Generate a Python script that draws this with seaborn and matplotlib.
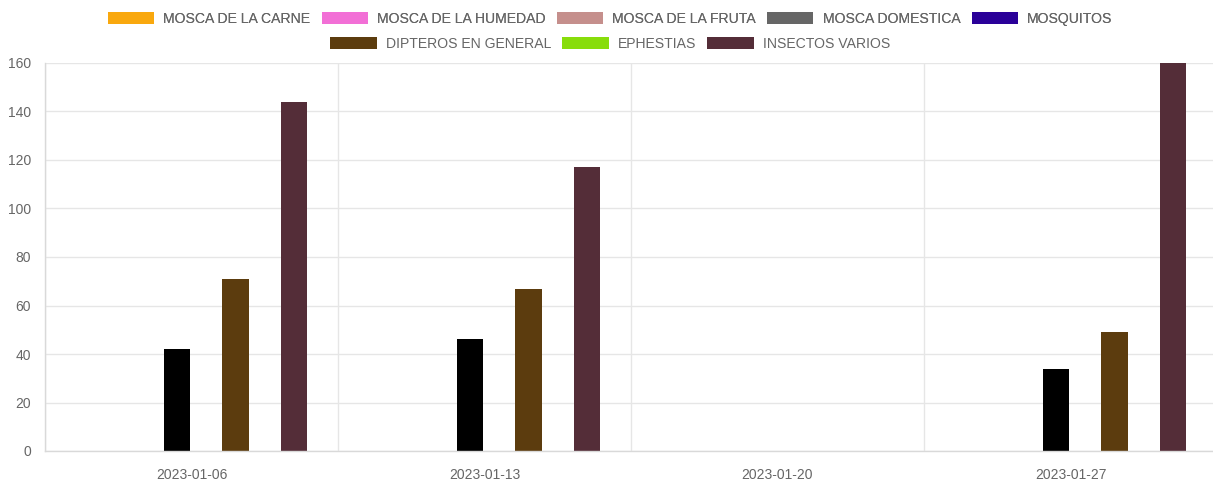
import pandas as pd
import matplotlib.pyplot as plt
import matplotlib.patches as mpatches
import seaborn as sns

sns.set_style("white")
plt.rcParams["font.family"] = ["Liberation Sans", "DejaVu Sans"]

fechas = ["2023-01-06", "2023-01-13", "2023-01-20", "2023-01-27"]
tipos = ["MOSCA DE LA CARNE", "MOSCA DE LA HUMEDAD", "MOSCA DE LA FRUTA",
         "MOSCA DOMESTICA", "MOSQUITOS", "DIPTEROS EN GENERAL",
         "EPHESTIAS", "INSECTOS VARIOS"]

mosca_carne = [0, 0, 0, 0]
mosca_humedad = [0, 0, 0, 0]
mosca_fruta = [0, 0, 0, 0]
mosca_domestica = [42, 46, 0, 34]
mosquitos = [0, 0, 0, 0]
dipteros = [71, 67, 0, 49]
ephestias = [0, 0, 0, 0]
insectos_varios = [144, 117, 0, 160]

# legend swatch colours vs. the colours the bars are actually drawn with
legend_colors = ["#f9a80e", "#f26fd6", "#c58f8c", "#666666",
                 "#2a0099", "#5c3c0e", "#88dd0b", "#542d38"]
bar_colors = list(legend_colors)
bar_colors[3] = "#000000"

valores = [mosca_carne, mosca_humedad, mosca_fruta, mosca_domestica,
           mosquitos, dipteros, ephestias, insectos_varios]

rows = []
for tipo, vals in zip(tipos, valores):
    for f, v in zip(fechas, vals):
        rows.append({"fecha": f, "tipo": tipo, "cantidad": v})
df = pd.DataFrame(rows)

fig = plt.figure(figsize=(12.13, 5.04), dpi=100)
# plot area runs a little past the right edge of the figure, as in the original
ax = fig.add_axes([45 / 1213, 1 - 451 / 504, (1217 - 45) / 1213, (451 - 63) / 504])

sns.barplot(data=df, x="fecha", y="cantidad", hue="tipo", hue_order=tipos,
            order=fechas, palette=dict(zip(tipos, bar_colors)), saturation=1,
            width=0.8, gap=0.1, linewidth=0, legend=False, ax=ax)

grid_c = "#e6e6e6"
ax.set_xlim(-0.5, 3.5)
ax.set_ylim(0, 160)
ax.set_yticks(range(0, 161, 20))
ax.set_xticks([-0.5, 0.5, 1.5, 2.5], minor=True)
ax.grid(axis="y", color=grid_c, linewidth=1)
ax.grid(axis="x", which="minor", color=grid_c, linewidth=1)
ax.set_axisbelow(True)
ax.set_xlabel("")
ax.set_ylabel("")

for s in ["top", "right"]:
    ax.spines[s].set_visible(False)
for s in ["left", "bottom"]:
    ax.spines[s].set_color("#d9d9d9")
    ax.spines[s].set_linewidth(1)

ax.tick_params(axis="y", length=7, color=grid_c, width=1, pad=3,
               labelsize=10, labelcolor="#666666")
ax.tick_params(axis="x", which="major", length=0, pad=12,
               labelsize=10, labelcolor="#666666")
ax.tick_params(axis="x", which="minor", length=7.5, color=grid_c, width=1)

handles = [mpatches.Patch(facecolor=c, edgecolor="none", label=t)
           for t, c in zip(tipos, legend_colors)]
leg_kw = dict(loc="center", frameon=False, fontsize=10.1, handlelength=3.3,
              handleheight=0.95, handletextpad=0.65, columnspacing=0.8,
              borderpad=0, labelcolor="#666666")
leg1 = fig.legend(handles=handles[:5], ncol=5, bbox_to_anchor=(0.503, 0.963), **leg_kw)
fig.add_artist(leg1)
fig.legend(handles=handles[5:], ncol=3, bbox_to_anchor=(0.503, 0.913), **leg_kw)

fig.savefig("out.png", dpi=100)
